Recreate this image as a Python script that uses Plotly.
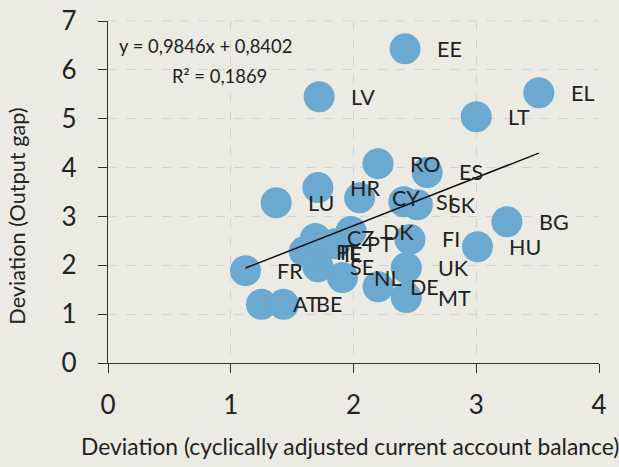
import plotly.graph_objects as go

countries = ["EE", "LV", "EL", "LT", "RO", "ES", "HR", "LU", "CY", "SI", "SK",
             "DK", "FI", "HU", "BG", "UK", "MT", "DE", "NL", "SE", "PL", "IE",
             "IT", "CZ", "PT", "FR", "AT", "BE"]
ca_dev = [2.42, 1.72, 3.51, 3.00, 2.20, 2.60, 1.71, 1.37, 2.05, 2.41, 2.52,
          1.98, 2.46, 3.01, 3.25, 2.43, 2.43, 2.20, 1.91, 1.71, 1.60, 1.66,
          1.63, 1.69, 1.85, 1.12, 1.25, 1.43]
gap_dev = [6.43, 5.45, 5.53, 5.04, 4.08, 3.90, 3.59, 3.28, 3.38, 3.30, 3.24,
           2.69, 2.53, 2.38, 2.89, 1.95, 1.34, 1.56, 1.75, 1.97, 2.28, 2.24,
           2.27, 2.55, 2.44, 1.89, 1.20, 1.20]

slope = 0.9846
intercept = 0.8402
r2 = 0.1869
x_ticks = [0, 1, 2, 3, 4]
y_ticks = [0, 1, 2, 3, 4, 5, 6, 7]

FONT = "Lato"
TXT = "#222222"
W, H = 619, 467
L, R, T, B = 108, 20, 21, 103.5
PW, PH = W - L - R, H - T - B

fig = go.Figure()
fig.add_trace(go.Scatter(
    x=ca_dev, y=gap_dev, mode="markers",
    marker=dict(size=31, color="#6BA9D1", line=dict(width=0)),
    hoverinfo="text", text=countries, showlegend=False,
))

xmin, xmax = min(ca_dev), max(ca_dev)
fig.add_trace(go.Scatter(
    x=[xmin, xmax], y=[slope * xmin + intercept, slope * xmax + intercept],
    mode="lines", line=dict(color="#111111", width=1.5), showlegend=False,
))

for c, xv, yv in zip(countries, ca_dev, gap_dev):
    fig.add_annotation(x=xv, y=yv, text=c, showarrow=False, xanchor="left",
                       yanchor="middle", xshift=30,
                       font=dict(family=FONT, size=21.5, color=TXT))

def px(xp):
    return (xp - L) / PW

def py(yp):
    return (H - B - yp) / PH

fig.add_annotation(xref="paper", yref="paper", x=px(205), y=py(46),
                   text=f"y = {slope:.4f}x + {intercept:.4f}".replace(".", ","),
                   showarrow=False, xanchor="center", yanchor="middle",
                   font=dict(family=FONT, size=18.4, color=TXT))
fig.add_annotation(xref="paper", yref="paper", x=px(219), y=py(76),
                   text=f"R² = {r2:.4f}".replace(".", ","),
                   showarrow=False, xanchor="center", yanchor="middle",
                   font=dict(family=FONT, size=18.4, color=TXT))
fig.add_annotation(xref="paper", yref="paper", x=px(350), y=py(447),
                   text="Deviation (cyclically adjusted current account balance)",
                   showarrow=False, xanchor="center", yanchor="middle",
                   font=dict(family=FONT, size=22.8, color=TXT))
fig.add_annotation(xref="paper", yref="paper", x=px(17), y=py(217),
                   text="Deviation (Output gap)", textangle=-90,
                   showarrow=False, xanchor="center", yanchor="middle",
                   font=dict(family=FONT, size=21.7, color=TXT))

axis_common = dict(showline=True, linecolor="#333333", linewidth=1.2,
                   ticks="outside", ticklen=9, tickcolor="#333333",
                   showgrid=True, gridcolor="#D3D3D3", griddash="dash", gridwidth=1,
                   zeroline=False, automargin=False,
                   tickfont=dict(size=26, family=FONT, color=TXT))
fig.update_layout(
    width=W, height=H,
    margin=dict(l=L, r=R, t=T, b=B),
    paper_bgcolor="#EBEBE3", plot_bgcolor="#EBEBE3",
    font=dict(family=FONT, color=TXT),
    xaxis=dict(range=[0, 4], tickvals=x_ticks, ticklabelstandoff=10, **axis_common),
    yaxis=dict(range=[0, 7], tickvals=y_ticks, ticklabelstandoff=16, **axis_common),
)
fig.add_shape(type="line", xref="paper", yref="paper", x0=0, x1=1, y0=1, y1=1,
              line=dict(color="#D3D3D3", width=1, dash="dash"))

fig.write_html("out.html", config={"displayModeBar": False},
               post_script="document.body.style.margin='0';document.body.style.overflow='hidden';")
